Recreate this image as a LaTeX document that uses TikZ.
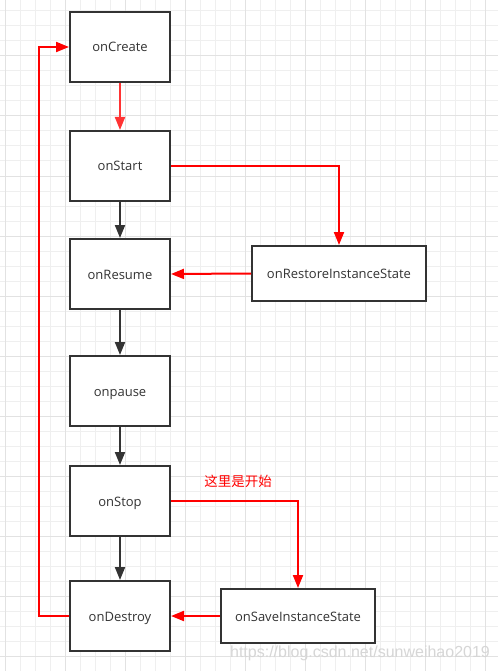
\documentclass[tikz,border=0pt]{standalone}
\usepackage{fontspec}
\setmainfont{Open Sans}
\newfontfamily\cjk{Noto Sans CJK SC}
\newfontfamily\wmfont{Liberation Sans}
\usetikzlibrary{arrows.meta}
\definecolor{boxc}{HTML}{333333}
\definecolor{txtc}{HTML}{333333}
\definecolor{redc}{HTML}{FF0000}
\definecolor{lightred}{HTML}{FF3333}
\definecolor{gridminor}{HTML}{EFEFEF}
\definecolor{gridmajor}{HTML}{E2E2E2}
\definecolor{wmc}{HTML}{D6D6D6}
\begin{document}
\begin{tikzpicture}[x=1pt,y=-1pt,
  box/.style={draw=boxc, line width=2pt, fill=white, minimum width=100pt,
    minimum height=70pt, inner sep=0pt, text=txtc, text height=12pt, text depth=2pt,
    font=\fontsize{13}{15}\selectfont},
  sidebox/.style={box, minimum height=55pt},
  tipstyle/.style={-{Triangle[length=13pt,width=10pt]}},
  darkarr/.style={tipstyle, draw=boxc, line width=2pt},
  redarr/.style={tipstyle, draw=redc, line width=2pt},
]
\useasboundingbox (0,0) rectangle (498,671);
\fill[white] (0,0) rectangle (498,671);
% grid
\foreach \k in {0,...,32} {
  \draw[gridminor, line width=1pt] ({5+15*\k},0) -- ({5+15*\k},671);
}
\foreach \k in {0,...,44} {
  \draw[gridminor, line width=1pt] (0,{11+15*\k}) -- (498,{11+15*\k});
}
\foreach \k in {0,...,8} {
  \draw[gridmajor, line width=1pt] ({5+60*\k},0) -- ({5+60*\k},671);
}
\foreach \k in {0,...,10} {
  \draw[gridmajor, line width=1pt] (0,{56+60*\k}) -- (498,{56+60*\k});
}
% nodes
\node[box] (c1) at (120,47) {onCreate};
\node[box] (c2) at (120,166) {onStart};
\node[box] (c3) at (120,274) {onResume};
\node[box] (c4) at (120,391) {onpause};
\node[box] (c5) at (120,501) {onStop};
\node[box] (c6) at (120,616) {onDestroy};
\node[sidebox, minimum width=174pt] (r) at (339,273.5) {onRestoreInstanceState};
\node[sidebox, minimum width=154pt, minimum height=54pt] (s) at (298,616) {onSaveInstanceState};
% connectors
\draw[redarr, draw=lightred, -{Triangle[length=13pt,width=10pt,fill=lightred]}] (c1) -- (c2);
\draw[darkarr] (c2) -- (c3);
\draw[darkarr] (c3) -- (c4);
\draw[darkarr] (c4) -- (c5);
\draw[darkarr] (c5) -- (c6);
\draw[redarr] (c2.east) -| (r.north);
\draw[redarr] (r.west) -- (c3.east);
\draw[redarr] (c5.east) -| (s.north);
\draw[redarr] (s.west) -- (c6.east);
\draw[redarr] (c6.west) -- ++(-30,0) |- (c1.west);
% label
\node[text=redc, font=\cjk\fontsize{13.5}{15}\selectfont, inner sep=0pt] (lbl) at (238,481) {这里是开始};
% watermark
\node[text=wmc, font=\wmfont\fontsize{16}{18}\selectfont, inner sep=0pt] (wm) at (360,653) {https://blog.csdn.net/sunweihao2019};
\end{tikzpicture}
\end{document}
